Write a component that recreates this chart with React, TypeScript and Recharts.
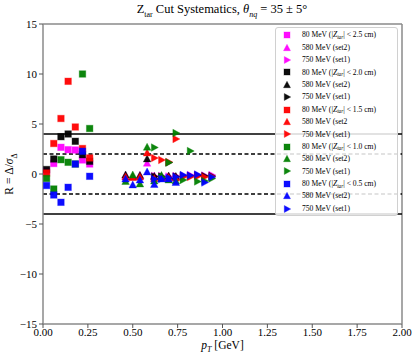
import React from 'react';
import { ScatterChart, Scatter, XAxis, YAxis, ReferenceLine } from 'recharts';

// x positions (GeV)
const xLow = [0.02, 0.06, 0.10, 0.14, 0.18, 0.22, 0.26];
const x580 = [0.46, 0.50, 0.54, 0.58, 0.62, 0.66, 0.70, 0.74];
const x750 = [0.62, 0.66, 0.70, 0.74, 0.78, 0.82, 0.86, 0.90, 0.94];

// Zcut 2.5 cm (magenta)
const mag80 = [0.3, 1.05, 2.67, 2.43, 2.4, 1.4, 1.0];
const mag580 = [-0.15, -0.3, -0.15, 1.07, -0.2, -0.25, -0.25, -0.3];
const mag750 = [-0.2, -0.2, -0.25, -0.2, -0.15, -0.1, -0.1, -0.15, -0.1];
// Zcut 2.0 cm (black)
const blk80 = [0.45, 1.5, 3.73, 4.0, 3.27, 1.93, 1.27];
const blk580 = [-0.1, -0.3, -0.15, 1.5, -0.25, -0.3, -0.2, -0.25];
const blk750 = [-0.25, -0.25, 1.15, -0.25, -0.2, -0.2, -0.15, -0.2, -0.2];
// Zcut 1.5 cm (red)
const red80 = [0.1, 3.05, 5.55, 9.27, 4.7, 2.55, 1.6];
const red580 = [-0.3, -0.35, -0.3, 2.1, -0.45, -0.4, -0.35, -0.4];
const red750 = [1.6, 1.4, 1.2, 3.5, -0.3, -0.3, -0.25, -0.3, -0.25];
// Zcut 1.0 cm (green)
const grn80 = [-0.45, -1.5, 1.43, 1.17, 1.0, 10.0, 4.55];
const grn580 = [-0.75, -0.1, -1.0, 2.67, -0.7, -0.15, -0.6, -0.7];
const grn750 = [2.65, -0.3, 1.15, 4.1, -0.6, 2.3, -0.75, -0.7, -0.45];
// Zcut 0.5 cm (blue)
const blu80 = [-1.15, -2.1, -2.83, -1.33, 1.0, 2.27, -0.23];
const blu580 = [-0.5, -1.1, -0.6, 0.2, -1.05, -0.5, -0.5, -0.85];
const blu750 = [-0.5, -0.5, -0.4, -0.3, -0.1, -0.15, -0.05, -0.85, -0.3];

const xTicks = [0, 0.25, 0.5, 0.75, 1.0, 1.25, 1.5, 1.75, 2.0];
const yTicks = [-15, -10, -5, 0, 5, 10, 15];

type Kind = 'square' | 'up' | 'right';
interface Series { key: string; kind: Kind; color: string; cut?: string; label?: string; xs: number[]; ys: number[]; }

const series: Series[] = [
  { key: 'm80', kind: 'square', color: '#ff00ff', cut: '2.5', xs: xLow, ys: mag80 },
  { key: 'm580', kind: 'up', color: '#ff00ff', label: '580 MeV (set2)', xs: x580, ys: mag580 },
  { key: 'm750', kind: 'right', color: '#ff00ff', label: '750 MeV (set1)', xs: x750, ys: mag750 },
  { key: 'k80', kind: 'square', color: '#000000', cut: '2.0', xs: xLow, ys: blk80 },
  { key: 'k580', kind: 'up', color: '#000000', label: '580 MeV (set2)', xs: x580, ys: blk580 },
  { key: 'k750', kind: 'right', color: '#000000', label: '750 MeV (set1)', xs: x750, ys: blk750 },
  { key: 'r80', kind: 'square', color: '#ff0000', cut: '1.5', xs: xLow, ys: red80 },
  { key: 'r580', kind: 'up', color: '#ff0000', label: '580 MeV (set2', xs: x580, ys: red580 },
  { key: 'r750', kind: 'right', color: '#ff0000', label: '750 MeV (set1)', xs: x750, ys: red750 },
  { key: 'g80', kind: 'square', color: '#008000', cut: '1.0', xs: xLow, ys: grn80 },
  { key: 'g580', kind: 'up', color: '#008000', label: '580 MeV (set2)', xs: x580, ys: grn580 },
  { key: 'g750', kind: 'right', color: '#008000', label: '750 MeV (set1)', xs: x750, ys: grn750 },
  { key: 'b80', kind: 'square', color: '#0000ff', cut: '0.5', xs: xLow, ys: blu80 },
  { key: 'b580', kind: 'up', color: '#0000ff', label: '580 MeV (set2)', xs: x580, ys: blu580 },
  { key: 'b750', kind: 'right', color: '#0000ff', label: '750 MeV (set1)', xs: x750, ys: blu750 },
];

const FONT = "'Liberation Serif', 'DejaVu Serif', serif";

function marker(kind: Kind, cx: number, cy: number, color: string, s: number) {
  if (kind === 'square') {
    return <rect x={cx - s / 2} y={cy - s / 2} width={s} height={s} fill={color} fillOpacity={0.95} stroke={color} strokeOpacity={0.35} strokeWidth={1} />;
  }
  if (kind === 'up') {
    const pts = `${cx},${cy - s * 0.62} ${cx - s * 0.58},${cy + s * 0.45} ${cx + s * 0.58},${cy + s * 0.45}`;
    return <polygon points={pts} fill={color} fillOpacity={0.95} stroke={color} strokeOpacity={0.35} strokeWidth={1} />;
  }
  const pts = `${cx + s * 0.62},${cy} ${cx - s * 0.45},${cy - s * 0.58} ${cx - s * 0.45},${cy + s * 0.58}`;
  return <polygon points={pts} fill={color} fillOpacity={0.95} stroke={color} strokeOpacity={0.35} strokeWidth={1} />;
}

function LegendBox() {
  return (
    <div style={{ position: 'absolute', left: 275, top: 27, width: 123, height: 189, boxSizing: 'border-box', border: '1px solid #d0d0d0', borderRadius: 3, background: 'rgba(255,255,255,0.85)', paddingTop: 1, fontFamily: FONT, fontSize: 7.6, color: '#000', lineHeight: 1 }}>
      {series.map((s) => (
        <div key={s.key} style={{ height: 12.4, display: 'flex', alignItems: 'center', whiteSpace: 'nowrap' }}>
          <svg width={22} height={12} style={{ marginLeft: 3, flex: 'none' }}>
            {marker(s.kind, 8, 6, s.color, 6)}
          </svg>
          <span style={{ marginLeft: 1 }}>
            {s.cut ? (
              <>80 MeV (|<i>Z</i><span style={{ fontSize: 5.2, fontStyle: 'italic', position: 'relative', top: 1.5 }}>tar</span>| &lt; {s.cut} cm)</>
            ) : s.label}
          </span>
        </div>
      ))}
    </div>
  );
}

const fmtX = (v: number) => v.toFixed(2);
const fmtY = (v: number) => (v < 0 ? '\u2212' + Math.abs(v) : String(v));

export default function App() {
  return (
    <div style={{ position: 'absolute', left: 0, top: 0, width: 420, height: 360, background: '#fff', fontFamily: FONT }}>
      <ScatterChart width={420} height={360} margin={{ top: 24, right: 18, bottom: 0, left: 0 }}>
        <XAxis type="number" dataKey="x" domain={[0, 2]} ticks={xTicks} tickFormatter={fmtX} allowDataOverflow
          height={36} stroke="#8a8a8a" strokeWidth={1.5} tickSize={4} tickMargin={0} tickLine={{ stroke: '#555', strokeWidth: 1 }}
          tick={{ fill: '#000', fontSize: 11, fontFamily: FONT }} />
        <YAxis type="number" dataKey="y" domain={[-15, 15]} ticks={yTicks} tickFormatter={fmtY} allowDataOverflow
          width={43} stroke="#8a8a8a" strokeWidth={1.5} tickSize={4} tickLine={{ stroke: '#555', strokeWidth: 1 }}
          tick={{ fill: '#000', fontSize: 11, fontFamily: FONT }} />
        <ReferenceLine y={15} stroke="#8a8a8a" strokeWidth={1.5} />
        <ReferenceLine x={2} stroke="#8a8a8a" strokeWidth={1.5} />
        <ReferenceLine y={4} stroke="#000" strokeWidth={1.3} />
        <ReferenceLine y={-4} stroke="#000" strokeWidth={1.3} />
        <ReferenceLine y={2} stroke="#000" strokeWidth={1.3} strokeDasharray="4 2.5" />
        <ReferenceLine y={-2} stroke="#000" strokeWidth={1.3} strokeDasharray="4 2.5" />
        {series.map((s) => (
          <Scatter key={s.key} name={s.key} data={s.xs.map((x, i) => ({ x, y: s.ys[i] }))}
            isAnimationActive={false}
            shape={(p: any) => marker(s.kind, p.cx, p.cy, s.color, 6.5)} />
        ))}
      </ScatterChart>
      <LegendBox />
      <div style={{ position: 'absolute', left: 0, width: 444, top: 2, textAlign: 'center', fontSize: 12.5, whiteSpace: 'nowrap' }}>
        Z<sub style={{ fontSize: 8 }}>tar</sub> Cut Systematics, <i>θ</i><sub style={{ fontSize: 8, fontStyle: 'italic' }}>nq</sub> = 35 ± 5°
      </div>
      <div style={{ position: 'absolute', left: 43, width: 359, top: 339, textAlign: 'center', fontSize: 11.5, whiteSpace: 'nowrap' }}>
        <i>p</i><sub style={{ fontSize: 8, fontStyle: 'italic' }}>T</sub> [GeV]
      </div>
      <div style={{ position: 'absolute', left: 11, top: 174, width: 0, height: 0 }}>
        <div style={{ position: 'absolute', transform: 'translate(-50%, -50%) rotate(-90deg)', whiteSpace: 'nowrap', fontSize: 11.5 }}>
          R = Δ/<i>σ</i><sub style={{ fontSize: 8 }}>Δ</sub>
        </div>
      </div>
    </div>
  );
}
